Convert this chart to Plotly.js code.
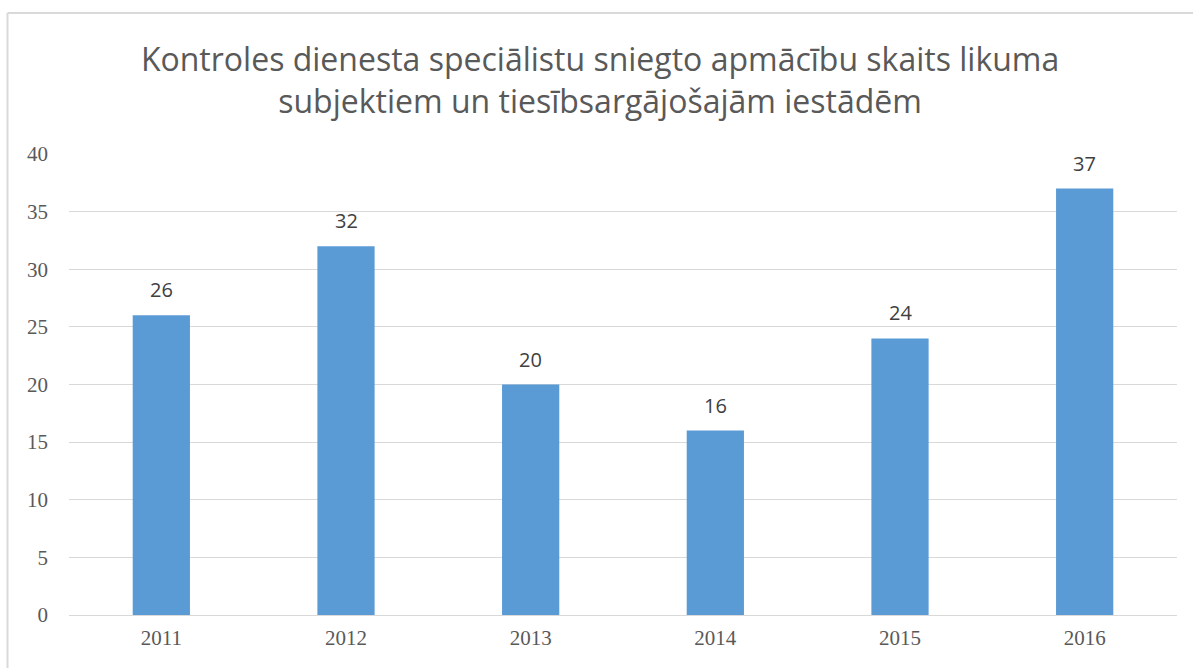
<!DOCTYPE html>
<html>
<head>
<meta charset="utf-8">
<script src="https://cdn.plot.ly/plotly-3.0.1.min.js"></script>
<style>
html,body{margin:0;padding:0;background:#fff;}
#chart{width:1193px;height:668px;}
</style>
</head>
<body>
<div id="chart"></div>
<script>
const years = ["2011", "2012", "2013", "2014", "2015", "2016"];
const counts = [26, 32, 20, 16, 24, 37];
const yTicks = [0, 5, 10, 15, 20, 25, 30, 35, 40];
const titleText = "Kontroles dienesta speciālistu sniegto apmācību skaits likuma<br>subjektiem un tiesībsargājošajām iestādēm";

const trace = {
  type: "bar",
  x: years,
  y: counts,
  width: 0.31,
  marker: {color: "#5b9bd5"},
  hoverinfo: "x+y"
};

const annotations = years.map((yr, i) => ({
  x: i, y: counts[i], xref: "x", yref: "y",
  text: String(counts[i]), showarrow: false,
  yanchor: "bottom", yshift: 10,
  font: {family: "Open Sans, DejaVu Sans, sans-serif", size: 20, color: "#404040"}
}));

const layout = {
  width: 1193, height: 668,
  margin: {l: 69, r: 16, t: 154, b: 53},
  paper_bgcolor: "#fff", plot_bgcolor: "#fff",
  title: {
    text: titleText,
    font: {family: "Open Sans, DejaVu Sans, sans-serif", size: 32, color: "#595959"},
    x: 0.503, xanchor: "center", xref: "container",
    y: 0.893, yanchor: "top", yref: "container"
  },
  xaxis: {
    type: "category",
    range: [-0.5, 5.5],
    showgrid: false, zeroline: false, showline: false, ticks: "",
    tickfont: {family: "Liberation Serif, DejaVu Serif, serif", size: 21, color: "#595959"},
    ticklabelstandoff: 8
  },
  yaxis: {
    range: [0, 40], tickvals: yTicks,
    showgrid: true, gridcolor: "#d9d9d9", gridwidth: 1,
    zeroline: true, zerolinecolor: "#d9d9d9", zerolinewidth: 1,
    showline: false, ticks: "",
    tickfont: {family: "Liberation Serif, DejaVu Serif, serif", size: 21, color: "#595959"},
    ticklabelstandoff: 20
  },
  bargap: 0.69,
  annotations: annotations,
  shapes: [
    {type: "line", xref: "paper", yref: "paper", x0: -0.0555, x1: -0.0555, y0: -0.2, y1: 1.306,
     line: {color: "#d9d9d9", width: 2}},
    {type: "line", xref: "paper", yref: "paper", x0: -0.0555, x1: 1.02, y0: 1.306, y1: 1.306,
     line: {color: "#d9d9d9", width: 2}}
  ],
  showlegend: false
};

Plotly.newPlot("chart", [trace], layout, {displayModeBar: false});
</script>
</body>
</html>
